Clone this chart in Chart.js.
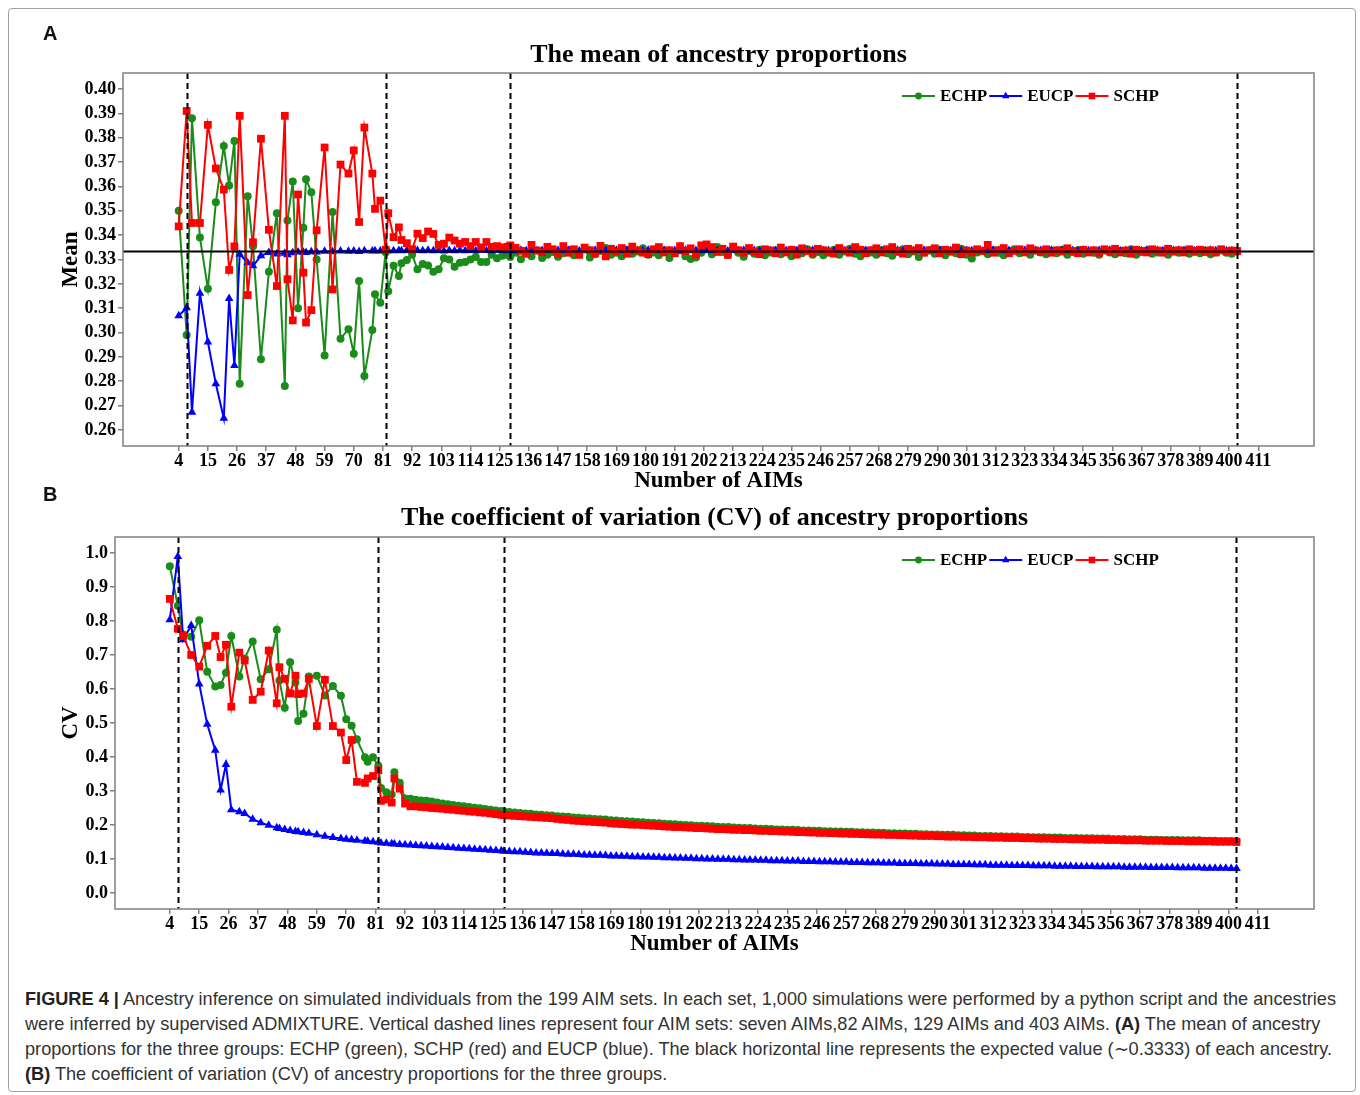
<!DOCTYPE html>
<html><head><meta charset="utf-8">
<script src="https://cdn.jsdelivr.net/npm/chart.js@4.4.1/dist/chart.umd.min.js"></script>
<style>
html,body{margin:0;padding:0;background:#fff;}
body{width:1360px;height:1095px;position:relative;overflow:hidden;}
#frame{position:absolute;left:8px;top:8px;width:1348px;height:1084px;border:1px solid #a0a0a0;border-radius:4px;box-sizing:border-box;}
canvas{position:absolute;left:0;}
#cA{top:0;} #cB{top:495px;}
.lab{position:absolute;font:bold 20px 'Liberation Sans',Arial,sans-serif;color:#111;line-height:20px;}
#cap{position:absolute;left:25px;top:987px;font-family:'Liberation Sans',Arial,sans-serif;font-size:17px;line-height:25px;color:#333;white-space:nowrap;}
#cap b{color:#222;}
</style></head>
<body>
<div id="frame"></div>
<canvas id="cA" width="1360" height="495"></canvas>
<canvas id="cB" width="1360" height="463"></canvas>
<div class="lab" style="left:43px;top:23px;">A</div>
<div class="lab" style="left:43px;top:484px;">B</div>
<div id="cap">
<div id="l1"><b>FIGURE 4 |</b> Ancestry inference on simulated individuals from the 199 AIM sets. In each set, 1,000 simulations were performed by a python script and the ancestries</div>
<div>were inferred by supervised ADMIXTURE. Vertical dashed lines represent four AIM sets: seven AIMs,82 AIMs, 129 AIMs and 403 AIMs. <b>(A)</b> The mean of ancestry</div>
<div>proportions for the three groups: ECHP (green), SCHP (red) and EUCP (blue). The black horizontal line represents the expected value (∼0.3333) of each ancestry.</div>
<div><b>(B)</b> The coefficient of variation (CV) of ancestry proportions for the three groups.</div>
</div>
<script>
// ---------- DATA ----------
const seriesNames = ['ECHP','EUCP','SCHP'];

const aimSets = [4,7,9,12,15,18,21,23,25,27,30,32,35,38,41,44,45,47,49,51,52,54,56,59,62,65,68,70,72,74,77,78,80,82,83,85,87,88,90,92,
94,96,98,100,102,104,106,108,110,112,114,116,118,120,122,124,126,128,
129,131,133,135,137,139,141,143,145,147,
149,151,153,155,157,159,161,163,165,167,
169,171,173,175,177,179,181,183,185,187,
189,191,193,195,197,199,201,203,205,207,
209,211,213,215,217,219,221,223,225,227,
229,231,233,235,237,239,241,243,245,247,
249,251,253,255,257,259,261,263,265,267,
269,271,273,275,277,279,281,283,285,287,
289,291,293,295,297,299,301,303,305,307,
309,311,313,315,317,319,321,323,325,327,
329,331,333,335,337,339,341,343,345,347,
349,351,353,355,357,359,361,363,365,367,
369,371,373,375,377,379,381,383,385,387,
389,391,393,395,397,399,401,403];

const xTickLabels = [4,15,26,37,48,59,70,81,92,103,114,125,136,147,158,169,180,191,202,213,224,235,246,257,268,279,290,301,312,323,334,345,356,367,378,389,400,411];
const meanTicks = [0.26,0.27,0.28,0.29,0.30,0.31,0.32,0.33,0.34,0.35,0.36,0.37,0.38,0.39,0.40];
const cvTicks = [0.0,0.1,0.2,0.3,0.4,0.5,0.6,0.7,0.8,0.9,1.0];
const markedSets = [7,82,129,403];
const expectedMean = 0.3333;

const meanECHP = [
0.350,0.299,0.388,0.339,0.318,0.3535,0.3766,0.3604,0.3787,0.279,
0.356,0.3354,0.289,0.325,0.349,0.278,0.346,0.362,0.310,0.343,
0.363,0.3576,0.330,0.2906,0.3495,0.2975,0.3014,0.2913,0.3212,0.2822,
0.301,0.3157,0.3122,0.333,0.317,0.3274,0.3232,0.3285,0.3298,0.332,
0.326,0.3282,0.3275,0.325,0.326,0.3305,0.330,0.327,0.3287,0.329,0.330,0.331,0.329,0.329,0.332,0.3305,0.3315,0.332,
0.3310,0.3328,0.3301,0.3324,0.3313,0.3337,0.3306,0.3320,0.3331,0.3311,
0.3326,0.3338,0.3317,0.3329,0.3342,0.3308,0.3322,0.3335,0.3347,0.3319,
0.3328,0.3313,0.3340,0.3324,0.3333,0.3346,0.3320,0.3329,0.3317,0.3337,
0.3306,0.3326,0.3338,0.3313,0.3302,0.3308,0.3328,0.3342,0.3322,0.3351,
0.3331,0.3319,0.3344,0.3328,0.3311,0.3335,0.3324,0.3340,0.3317,0.3329,
0.3338,0.3322,0.3333,0.3313,0.3337,0.3326,0.3342,0.3320,0.3331,0.3317,
0.3328,0.3340,0.3319,0.3333,0.3344,0.3324,0.3313,0.3335,0.3329,0.3320,
0.3338,0.3326,0.3315,0.3331,0.3342,0.3322,0.3333,0.3310,0.3329,0.3337,
0.3324,0.3340,0.3317,0.3333,0.3326,0.3344,0.3320,0.3304,0.3329,0.3335,
0.3322,0.3338,0.3328,0.3317,0.3333,0.3342,0.3326,0.3331,0.3320,0.3337,
0.3329,0.3322,0.3335,0.3326,0.3340,0.3319,0.3331,0.3338,0.3324,0.3333,
0.3328,0.3320,0.3337,0.3329,0.3322,0.3335,0.3326,0.3342,0.3319,0.3331,
0.3338,0.3324,0.3329,0.3335,0.3320,0.3333,0.3328,0.3337,0.3324,0.3331,
0.3326,0.3335,0.3322,0.3329,0.3337,0.3328,0.3324,0.3333];

const meanEUCP = [
0.3069,0.3102,0.2673,0.3161,0.2961,0.279,0.2648,0.314,0.2865,0.3322,
0.3287,0.3274,0.3315,0.3329,0.3323,0.3326,0.332,0.3328,0.3331,0.3330,
0.3329,0.3332,0.3331,0.3334,0.3332,0.3335,0.3334,0.3335,0.3333,0.3336,
0.3335,0.3336,0.3335,0.3337,0.3336,0.3336,0.3337,0.3336,0.3337,0.3336,
0.3337,0.3336,0.3338,0.3336,0.3337,0.3335,0.3337,0.3336,0.3338,0.3336,0.3337,0.3336,0.3338,0.3337,0.3336,0.3338,0.3337,0.3336,
0.3337,0.3336,0.3338,0.3336,0.3337,0.3335,0.3337,0.3338,0.3336,0.3337,
0.3336,0.3338,0.3337,0.3335,0.3337,0.3336,0.3338,0.3336,0.3337,0.3336,
0.3338,0.3336,0.3337,0.3335,0.3337,0.3336,0.3338,0.3337,0.3336,0.3337,
0.3336,0.3337,0.3335,0.3338,0.3336,0.3337,0.3336,0.3338,0.3336,0.3337,
0.3337,0.3335,0.3337,0.3336,0.3338,0.3336,0.3337,0.3336,0.3335,0.3337,
0.3336,0.3338,0.3336,0.3337,0.3336,0.3335,0.3337,0.3338,0.3336,0.3337,
0.3337,0.3336,0.3338,0.3336,0.3337,0.3336,0.3335,0.3337,0.3336,0.3338,
0.3336,0.3337,0.3336,0.3338,0.3335,0.3337,0.3336,0.3337,0.3338,0.3336,
0.3337,0.3336,0.3335,0.3337,0.3338,0.3336,0.3337,0.3336,0.3337,0.3335,
0.3336,0.3338,0.3337,0.3336,0.3337,0.3335,0.3336,0.3338,0.3336,0.3337,
0.3337,0.3336,0.3338,0.3335,0.3337,0.3336,0.3337,0.3336,0.3338,0.3336,
0.3336,0.3337,0.3336,0.3338,0.3337,0.3335,0.3337,0.3336,0.3337,0.3336,
0.3338,0.3336,0.3337,0.3336,0.3335,0.3337,0.3338,0.3336,0.3337,0.3336,
0.3337,0.3336,0.3338,0.3336,0.3337,0.3336,0.3335,0.3334];

const meanSCHP = [
0.3436,0.391,0.345,0.345,0.3853,0.3674,0.3587,0.3257,0.3354,0.389,
0.3154,0.3371,0.3796,0.3422,0.3191,0.389,0.3219,0.305,0.3567,0.3246,
0.3041,0.3092,0.342,0.376,0.3177,0.369,0.3653,0.3748,0.3454,0.3842,
0.3653,0.3508,0.3542,0.334,0.349,0.3392,0.3432,0.338,0.3367,0.3342,
0.3406,0.3388,0.3415,0.3405,0.336,0.3365,0.339,0.3378,0.3365,0.3372,0.3355,0.3372,0.335,0.3372,0.3352,0.3355,0.3350,0.3352,
0.3358,0.3348,0.3336,0.3325,0.3360,0.3337,0.3330,0.3352,0.3342,0.3323,
0.3355,0.3328,0.3342,0.3319,0.3349,0.3338,0.3326,0.3356,0.3313,0.3344,
0.3333,0.3347,0.3324,0.3353,0.3337,0.3328,0.3322,0.3342,0.3351,0.3329,
0.3338,0.3326,0.3355,0.3335,0.3346,0.3320,0.3358,0.3362,0.3351,0.3331,
0.3344,0.3319,0.3353,0.3338,0.3328,0.3347,0.3333,0.3322,0.3342,0.3337,
0.3326,0.3349,0.3329,0.3340,0.3320,0.3346,0.3335,0.3328,0.3344,0.3338,
0.3331,0.3324,0.3347,0.3337,0.3328,0.3351,0.3340,0.3326,0.3338,0.3346,
0.3329,0.3342,0.3351,0.3335,0.3324,0.3344,0.3337,0.3347,0.3328,0.3338,
0.3346,0.3326,0.3340,0.3333,0.3349,0.3322,0.3337,0.3329,0.3342,0.3335,
0.3360,0.3328,0.3338,0.3347,0.3326,0.3335,0.3342,0.3329,0.3346,0.3337,
0.3331,0.3342,0.3328,0.3338,0.3333,0.3346,0.3335,0.3326,0.3340,0.3329,
0.3338,0.3328,0.3342,0.3333,0.3344,0.3329,0.3337,0.3324,0.3340,0.3335,
0.3329,0.3342,0.3337,0.3328,0.3344,0.3333,0.3338,0.3329,0.3342,0.3335,
0.3340,0.3331,0.3338,0.3329,0.3342,0.3333,0.3337,0.3335];

const cvECHP = [
0.961,0.845,0.760,0.754,0.802,0.651,0.607,0.612,0.648,0.756,
0.637,0.690,0.740,0.629,0.658,0.774,0.625,0.545,0.679,0.619,
0.506,0.527,0.637,0.639,0.581,0.609,0.580,0.511,0.492,0.452,
0.399,0.386,0.399,0.374,0.309,0.296,0.290,0.355,0.324,0.278,
0.277,0.274,0.272,0.271,0.269,0.266,0.263,0.261,0.259,0.257,0.255,0.253,0.251,0.249,0.247,0.245,0.243,0.241,
0.240,0.238,0.237,0.235,0.234,0.233,0.231,0.230,0.229,0.228,
0.226,0.225,0.224,0.222,0.221,0.220,0.219,0.218,0.217,0.216,
0.214,0.213,0.212,0.211,0.210,0.209,0.208,0.207,0.206,0.205,
0.204,0.203,0.202,0.201,0.200,0.199,0.198,0.198,0.197,0.196,
0.195,0.194,0.194,0.193,0.192,0.191,0.191,0.190,0.189,0.189,
0.188,0.187,0.187,0.186,0.186,0.185,0.184,0.184,0.183,0.183,
0.182,0.182,0.181,0.181,0.180,0.180,0.179,0.179,0.178,0.178,
0.177,0.177,0.176,0.176,0.175,0.175,0.174,0.174,0.173,0.173,
0.172,0.172,0.171,0.171,0.171,0.170,0.170,0.169,0.169,0.168,
0.168,0.168,0.167,0.167,0.166,0.166,0.166,0.165,0.165,0.164,
0.164,0.164,0.163,0.163,0.163,0.162,0.162,0.162,0.161,0.161,
0.161,0.160,0.160,0.160,0.159,0.159,0.159,0.158,0.158,0.158,
0.157,0.157,0.157,0.156,0.156,0.156,0.156,0.155,0.155,0.155,
0.155,0.154,0.154,0.154,0.153,0.153,0.153,0.153];

const cvEUCP = [
0.804,0.990,0.745,0.787,0.615,0.496,0.420,0.303,0.378,0.245,
0.239,0.234,0.217,0.207,0.199,0.192,0.190,0.187,0.184,0.181,
0.180,0.178,0.176,0.171,0.167,0.163,0.160,0.158,0.157,0.155,
0.153,0.152,0.151,0.149,0.147,0.146,0.145,0.144,0.143,0.142,
0.141,0.140,0.139,0.138,0.137,0.136,0.135,0.134,0.133,0.132,0.131,0.130,0.129,0.128,0.127,0.126,0.125,0.124,
0.123,0.122,0.121,0.121,0.120,0.119,0.118,0.118,0.117,0.116,
0.116,0.115,0.114,0.114,0.113,0.112,0.112,0.111,0.111,0.110,
0.109,0.109,0.108,0.108,0.107,0.107,0.106,0.106,0.105,0.105,
0.104,0.104,0.103,0.103,0.102,0.102,0.101,0.101,0.100,0.100,
0.099,0.099,0.099,0.098,0.098,0.097,0.097,0.097,0.096,0.096,
0.095,0.095,0.095,0.094,0.094,0.094,0.093,0.093,0.093,0.092,
0.092,0.092,0.091,0.091,0.091,0.090,0.090,0.090,0.089,0.089,
0.089,0.088,0.088,0.088,0.087,0.087,0.087,0.087,0.086,0.086,
0.086,0.085,0.085,0.085,0.084,0.084,0.084,0.084,0.083,0.083,
0.083,0.082,0.082,0.082,0.082,0.081,0.081,0.081,0.081,0.080,
0.080,0.080,0.080,0.079,0.079,0.079,0.079,0.078,0.078,0.078,
0.078,0.077,0.077,0.077,0.077,0.077,0.076,0.076,0.076,0.076,
0.076,0.075,0.075,0.075,0.075,0.075,0.074,0.074,0.074,0.074,
0.074,0.073,0.073,0.073,0.073,0.073,0.072,0.072];

const cvSCHP = [
0.865,0.777,0.756,0.700,0.666,0.727,0.756,0.694,0.730,0.548,
0.707,0.684,0.568,0.592,0.713,0.558,0.664,0.630,0.587,0.639,
0.585,0.587,0.630,0.491,0.627,0.491,0.472,0.391,0.450,0.327,
0.324,0.337,0.344,0.361,0.271,0.275,0.266,0.337,0.307,0.263,
0.255,0.255,0.253,0.252,0.250,0.249,0.248,0.246,0.245,0.243,0.242,0.240,0.239,0.237,0.236,0.234,0.232,0.230,
0.229,0.228,0.227,0.226,0.225,0.224,0.223,0.222,0.221,0.220,
0.218,0.216,0.215,0.213,0.212,0.211,0.210,0.209,0.208,0.207,
0.205,0.204,0.203,0.202,0.201,0.201,0.200,0.199,0.198,0.197,
0.196,0.195,0.194,0.194,0.193,0.192,0.191,0.191,0.190,0.189,
0.188,0.188,0.187,0.186,0.186,0.185,0.185,0.184,0.183,0.183,
0.182,0.182,0.181,0.181,0.180,0.179,0.179,0.178,0.178,0.177,
0.177,0.176,0.176,0.175,0.175,0.174,0.174,0.173,0.173,0.172,
0.172,0.172,0.171,0.171,0.170,0.170,0.169,0.169,0.168,0.168,
0.168,0.167,0.167,0.166,0.166,0.166,0.165,0.165,0.164,0.164,
0.164,0.163,0.163,0.163,0.162,0.162,0.162,0.161,0.161,0.161,
0.160,0.160,0.160,0.159,0.159,0.159,0.158,0.158,0.158,0.157,
0.157,0.157,0.157,0.156,0.156,0.156,0.155,0.155,0.155,0.155,
0.154,0.154,0.154,0.154,0.153,0.153,0.153,0.153,0.152,0.152,
0.152,0.152,0.152,0.151,0.151,0.151,0.151,0.150];

// ---------- STYLE ----------
const SERIF = "'Liberation Serif','Times New Roman',serif";
const seriesColors = ['#1a8c1a','#0000ff','#ff0000'];
const pointStyles = ['circle','triangle','rect'];
const pointRadii = [4,5,5.5];
const drawOrder = [2,1,0];
const axisGray = '#808080';

function drawMarker(ctx, style, x, y, r) {
  ctx.beginPath();
  if (style === 'circle') { ctx.arc(x, y, r, 0, Math.PI*2); }
  else if (style === 'triangle') {
    for (let k=0;k<3;k++){ const a = k*2*Math.PI/3; const px = x + Math.sin(a)*r, py = y - Math.cos(a)*r; k?ctx.lineTo(px,py):ctx.moveTo(px,py); }
    ctx.closePath();
  } else { const s = Math.SQRT1_2*r; ctx.rect(x-s, y-s, 2*s, 2*s); }
  ctx.fill();
}

const refPlugin = {
  id: 'refLines',
  afterDatasetsDraw(chart, args, opts) {
    const {ctx, chartArea:{left,right,top,bottom}, scales:{x,y}} = chart;
    ctx.save();
    ctx.strokeStyle = '#000';
    if (opts.hline != null) {
      const py = y.getPixelForValue(opts.hline);
      ctx.lineWidth = 2; ctx.setLineDash([]);
      ctx.beginPath(); ctx.moveTo(left, py); ctx.lineTo(right, py); ctx.stroke();
    }
    ctx.lineWidth = 2; ctx.setLineDash([6,4]);
    for (const v of opts.vlines) {
      const px = Math.round(x.getPixelForValue(v)) + 0.5;
      ctx.beginPath(); ctx.moveTo(px, top); ctx.lineTo(px, bottom); ctx.stroke();
    }
    ctx.setLineDash([]);
    ctx.strokeStyle = axisGray; ctx.lineWidth = 1.5;
    ctx.strokeRect(left, top, right-left, bottom-top);
    // legend
    let lx = opts.legendX; const ly = top + opts.legendDy;
    ctx.font = 'bold 17px ' + SERIF; ctx.textBaseline = 'middle'; ctx.fillStyle = '#000';
    seriesNames.forEach((name, i) => {
      ctx.strokeStyle = seriesColors[i]; ctx.fillStyle = seriesColors[i]; ctx.lineWidth = 2;
      ctx.beginPath(); ctx.moveTo(lx, ly); ctx.lineTo(lx+33, ly); ctx.stroke();
      drawMarker(ctx, pointStyles[i], lx+16.5, ly, pointRadii[i]*0.85);
      ctx.fillStyle = '#000';
      ctx.fillText(name, lx+38, ly+1);
      lx += 38 + ctx.measureText(name).width + 2;
    });
    ctx.restore();
  }
};

function buildChart(id, o) {
  return new Chart(document.getElementById(id), {
    type: 'line',
    data: { datasets: seriesNames.map((name, i) => ({
      label: name,
      data: aimSets.map((xv, k) => ({x: xv, y: o.series[i][k]})),
      borderColor: seriesColors[i], backgroundColor: seriesColors[i],
      pointBackgroundColor: seriesColors[i], pointBorderColor: seriesColors[i],
      pointStyle: pointStyles[i], pointRadius: pointRadii[i], pointBorderWidth: 0,
      borderWidth: 2, tension: 0, order: drawOrder[i], clip: false
    }))},
    options: {
      responsive: false, animation: false, devicePixelRatio: 1,
      events: [],
      layout: { padding: { left: 0, right: 46, top: 0, bottom: 0 } },
      plugins: {
        legend: { display: false }, tooltip: { enabled: false },
        title: { display: true, text: o.title, fullSize: false, color: '#000',
                 font: { family: SERIF, size: 26, weight: 'bold' }, padding: o.titlePad },
        refLines: { hline: o.hline, vlines: markedSets, legendX: 902, legendDy: 23 }
      },
      scales: {
        x: {
          type: 'linear', min: o.xmin, max: o.xmax,
          afterBuildTicks: s => { s.ticks = xTickLabels.map(v => ({value: v})); },
          afterFit: s => { s.height = 49; },
          ticks: { autoSkip: false, maxRotation: 0, minRotation: 0, padding: 1, color: '#000',
                   font: { family: SERIF, size: 18, weight: 'bold', lineHeight: 1 },
                   callback: v => String(v) },
          grid: { drawOnChartArea: false, drawTicks: true, tickLength: 5, color: axisGray, lineWidth: 1.5 },
          border: { display: false },
          title: { display: true, text: 'Number of AIMs', color: '#000',
                   font: { family: SERIF, size: 23, weight: 'bold' }, padding: { top: 0, bottom: 0 } }
        },
        y: {
          min: o.ymin, max: o.ymax,
          afterBuildTicks: s => { s.ticks = o.yTicks.map(v => ({value: v})); },
          afterFit: s => { s.width = o.yWidth; },
          ticks: { padding: 2, color: '#000', font: { family: SERIF, size: 18, weight: 'bold', lineHeight: 1 },
                   callback: v => v.toFixed(o.yDec) },
          grid: { drawOnChartArea: false, drawTicks: true, tickLength: 5, color: axisGray, lineWidth: 1.5 },
          border: { display: false },
          title: { display: true, text: o.yTitle, color: '#000',
                   font: { family: SERIF, size: 23, weight: 'bold' }, padding: { top: 57, bottom: 0 } }
        }
      }
    },
    plugins: [refPlugin]
  });
}

buildChart('cA', {
  title: 'The mean of ancestry proportions', titlePad: { top: 39.4, bottom: 2.4 },
  series: [meanECHP, meanEUCP, meanSCHP], hline: expectedMean,
  xmin: -17, xmax: 432, ymin: 0.2534, ymax: 0.4066, yTicks: meanTicks, yDec: 2, yWidth: 123, yTitle: 'Mean'
});
buildChart('cB', {
  title: 'The coefficient of variation (CV) of ancestry proportions', titlePad: { top: 7.4, bottom: 3.4 },
  series: [cvECHP, cvEUCP, cvSCHP], hline: null,
  xmin: -16.5, xmax: 432, ymin: -0.047, ymax: 1.047, yTicks: cvTicks, yDec: 1, yWidth: 115, yTitle: 'CV'
});

// fit caption first line to reference width
(function(){
  const l1 = document.getElementById('l1');
  const r = document.createRange(); r.selectNodeContents(l1);
  const w = r.getBoundingClientRect().width;
  if (w > 0) document.getElementById('cap').style.fontSize = (17 * 1312 / w).toFixed(2) + 'px';
})();
</script>
</body></html>
